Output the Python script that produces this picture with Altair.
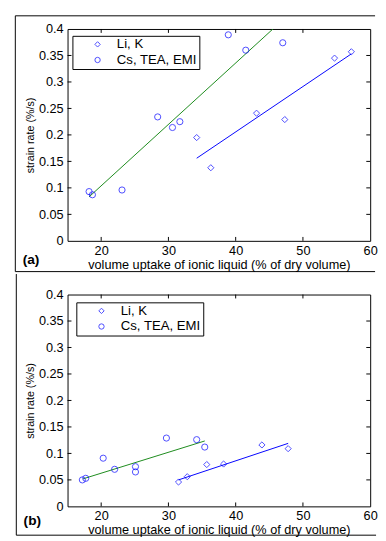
import altair as alt
import pandas as pd

GROUPS = ["Li, K", "Cs, TEA, EMI"]
SHAPES = ["diamond", "circle"]

# ---- panel (a) ----
a_cs_x = [18.2, 18.7, 23.1, 28.4, 30.6, 31.7, 38.9, 41.5, 47.0]
a_cs_y = [0.093, 0.087, 0.096, 0.234, 0.214, 0.225, 0.389, 0.360, 0.374]
a_li_x = [34.2, 36.3, 43.1, 47.3, 54.7, 57.2]
a_li_y = [0.195, 0.138, 0.241, 0.229, 0.345, 0.357]
a_cs_fit_x = [18.2, 47.0]
a_cs_fit_y = [0.083, 0.417]
a_li_fit_x = [34.2, 57.2]
a_li_fit_y = [0.156, 0.353]

# ---- panel (b) ----
b_cs_x = [17.2, 17.7, 20.3, 22.0, 25.1, 25.1, 29.7, 34.2, 35.4]
b_cs_y = [0.050, 0.053, 0.091, 0.070, 0.075, 0.065, 0.129, 0.126, 0.112]
b_li_x = [31.5, 32.8, 35.7, 38.2, 43.9, 47.8]
b_li_y = [0.046, 0.056, 0.079, 0.080, 0.116, 0.109]
b_cs_fit_x = [17.3, 35.4]
b_cs_fit_y = [0.052, 0.1235]
b_li_fit_x = [31.5, 47.8]
b_li_fit_y = [0.050, 0.119]

x_ticks = [20, 30, 40, 50]
y_ticks = [0.05, 0.1, 0.15, 0.2, 0.25, 0.3, 0.35]
x_labels = [20, 30, 40, 50, 60]
y_labels = [0, 0.05, 0.1, 0.15, 0.2, 0.25, 0.3, 0.35, 0.4]

FONT = "Liberation Sans"
W, H = 310, 217
NBSP = "\u00a0"


def panel(cs_x, cs_y, li_x, li_y, csf_x, csf_y, lif_x, lif_y, tag, tag_x, tag_y,
          leg_x, leg_y, frame_x, frame_top, frame_bottom, top_visible, label_pad, title_pad):
    xs = alt.Scale(domain=[15, 60], nice=False, zero=False)
    ys = alt.Scale(domain=[0, 0.4], nice=False, zero=False)
    xa = alt.Axis(values=x_labels, title="volume uptake of ionic liquid (% of dry volume)",
                  labelPadding=label_pad, titlePadding=title_pad)
    ya = alt.Axis(values=y_labels, format=".2~f", title="strain rate (%/s)",
                  labelPadding=4.5, titlePadding=3, titleFontSize=11)
    X = alt.X("x:Q", scale=xs, axis=xa)
    Y = alt.Y("y:Q", scale=ys, axis=ya)

    pts = pd.DataFrame({
        "x": li_x + cs_x,
        "y": li_y + cs_y,
        "group": [GROUPS[0]] * len(li_x) + [GROUPS[1]] * len(cs_x),
    })
    points = alt.Chart(pts).mark_point(filled=False, size=40, strokeWidth=1, color="blue").encode(
        x=X, y=Y,
        shape=alt.Shape("group:N", scale=alt.Scale(domain=GROUPS, range=SHAPES),
                        legend=alt.Legend(orient="none", legendX=leg_x, legendY=leg_y, title=None,
                                          strokeColor="black", fillColor="white", padding=2,
                                          symbolOffset=17, labelOffset=13, rowPadding=1,
                                          labelFont=FONT, labelFontSize=13.5, labelColor="black",
                                          symbolSize=30, symbolStrokeColor="blue",
                                          symbolFillColor="transparent", symbolStrokeWidth=1,
                                          labelExpr="datum.label + '" + NBSP * 4 + "'",
                                          labelLimit=300)),
    )
    fit_cs = alt.Chart(pd.DataFrame({"x": csf_x, "y": csf_y})).mark_line(
        color="#1a8a1a", strokeWidth=1, clip=True).encode(x=X, y=Y)
    fit_li = alt.Chart(pd.DataFrame({"x": lif_x, "y": lif_y})).mark_line(
        color="blue", strokeWidth=1, clip=True).encode(x=X, y=Y)

    xt = pd.DataFrame({"x": x_ticks})
    yt = pd.DataFrame({"y": y_ticks})
    tick_b = alt.Chart(xt).mark_rule(color="black").encode(x=X, y=alt.value(H), y2=alt.value(H - 4))
    tick_t = alt.Chart(xt).mark_rule(color="black").encode(x=X, y=alt.value(0), y2=alt.value(4))
    tick_l = alt.Chart(yt).mark_rule(color="black").encode(y=Y, x=alt.value(0), x2=alt.value(4))
    tick_r = alt.Chart(yt).mark_rule(color="black").encode(y=Y, x=alt.value(W), x2=alt.value(W - 4))

    one = pd.DataFrame({"k": [0]})
    right = 383 - (68 if tag == "(a)" else 67)
    frame_left = alt.Chart(one).mark_rule(color="black", strokeWidth=1).encode(
        x=alt.value(frame_x), x2=alt.value(frame_x), y=alt.value(frame_top), y2=alt.value(frame_bottom))
    frame_bot = alt.Chart(one).mark_rule(color="black", strokeWidth=1).encode(
        x=alt.value(frame_x), x2=alt.value(right), y=alt.value(frame_bottom), y2=alt.value(frame_bottom))
    frame_top_r = alt.Chart(one).mark_rule(color="black", strokeWidth=1,
                                           opacity=1 if top_visible else 0).encode(
        x=alt.value(frame_x), x2=alt.value(right), y=alt.value(frame_top), y2=alt.value(frame_top))

    label = alt.Chart(pd.DataFrame({"t": [tag]})).mark_text(
        align="left", baseline="middle", font=FONT, fontSize=14, fontWeight="bold", color="black"
    ).encode(x=alt.value(tag_x), y=alt.value(tag_y), text="t:N")

    return alt.layer(frame_top_r, frame_left, frame_bot, fit_cs, fit_li, points,
                     tick_b, tick_t, tick_l, tick_r, label).properties(width=W, height=H)


pa = panel(a_cs_x, a_cs_y, a_li_x, a_li_y, a_cs_fit_x, a_cs_fit_y, a_li_fit_x, a_li_fit_y,
           "(a)", -46, 237, 5, 7, -53.5, -13.5, 248.5, True, 3.5, 2)
pb = panel(b_cs_x, b_cs_y, b_li_x, b_li_y, b_cs_fit_x, b_cs_fit_y, b_li_fit_x, b_li_fit_y,
           "(b)", -45, 232, 9, 8, -52.5, -21, 246.5, False, 3, 1.5)

chart = alt.vconcat(pa, pb, spacing=0).resolve_scale(shape="independent").resolve_legend(
    shape="independent"
).properties(
    padding={"left": 6, "top": 0, "right": 0, "bottom": 0}
).configure_view(
    stroke="black", strokeWidth=1
).configure_axis(
    grid=False, ticks=False, domain=False, labelFont=FONT, titleFont=FONT,
    labelFontSize=13, titleFontSize=13, labelColor="black", titleColor="black",
    titleFontWeight="normal", labelFlush=False, labelOverlap=False
)

chart.save("out.html", embed_options={"renderer": "svg", "actions": False})
